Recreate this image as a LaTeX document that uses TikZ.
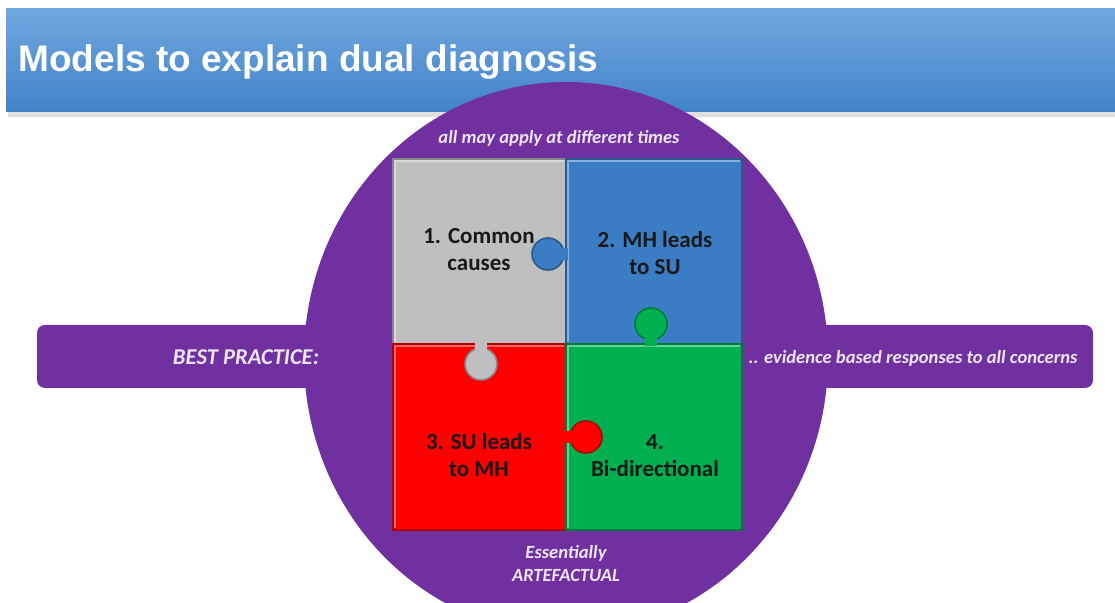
\documentclass[tikz,border=0pt]{standalone}
\usepackage{fontspec}
\setmainfont{Carlito}
\newfontfamily\headfont{Liberation Sans}
\definecolor{barTop}{HTML}{70A7DF}
\definecolor{barBottom}{HTML}{4283C8}
\definecolor{ring}{HTML}{7030A0}
\definecolor{ringText}{HTML}{EEE6F6}
\definecolor{pGrey}{HTML}{BFBFBF}
\definecolor{pBlue}{HTML}{3B7DC4}
\definecolor{pRed}{HTML}{FF0000}
\definecolor{pGreen}{HTML}{00B050}

\begin{document}
\begin{tikzpicture}[x=0.5pt, y=-0.5pt,
  ptext/.style={font=\bfseries\fontsize{11.5}{13.5}\selectfont, align=center, text=black!90},
  ringtext/.style={font=\bfseries\itshape\fontsize{9.3}{11.5}\selectfont, align=center, text=ringText},
  piece/.style={line width=0.8pt}]
\useasboundingbox (0,0) rectangle (1115,603);
\clip (0,0) rectangle (1115,603);

\fill[black!12] (8,112) rectangle (1115,117);
\shade[top color=barTop, bottom color=barBottom] (6,9) rectangle (1115,112);
\node[anchor=base west, inner sep=0pt, text=white, font=\headfont\bfseries\fontsize{18.5}{20}\selectfont] (title) at (18,72) {Models to explain dual diagnosis};

\fill[ring, rounded corners=4pt] (37,325) rectangle (1093,388);
\fill[ring] (566,358) ellipse [x radius=262, y radius=276];

\draw[piece, fill=pGrey, draw=pGrey!70!black] (393,159) rectangle (566,344);
\draw[piece, fill=pBlue, draw=pBlue!70!black] (566,159) rectangle (742,344);
\draw[piece, fill=pRed, draw=pRed!70!black] (393,344) rectangle (566,530);
\draw[piece, fill=pGreen, draw=pGreen!70!black] (566,344) rectangle (742,530);
\foreach \xa/\ya/\xb/\yb/\col in {393/159/566/344/pGrey, 566/159/742/344/pBlue, 393/344/566/530/pRed, 566/344/742/530/pGreen}
  \draw[\col!60!white, line width=0.8pt] (\xa+2,\yb-2) -- (\xa+2,\ya+2) -- (\xb-2,\ya+2);

\begin{scope}[piece]
\draw[fill=pBlue, draw=pBlue!70!black] (548,254) circle (16);
\fill[pBlue] (548,248) rectangle (568,260);
\draw[fill=pGrey, draw=pGrey!70!black] (481,364) circle (16);
\fill[pGrey] (475,342) rectangle (487,364);
\draw[fill=pGreen, draw=pGreen!70!black] (651,324) circle (16);
\fill[pGreen] (645,324) rectangle (657,346);
\draw[fill=pRed, draw=pRed!70!black] (586,437) circle (16);
\fill[pRed] (564,431) rectangle (586,443);
\end{scope}

\node[ptext] (common) at (479,250) {1. Common\\causes};
\node[ptext] (mhsu) at (655,253) {2. MH leads\\to SU};
\node[ptext] (sumh) at (479,455) {3. SU leads\\to MH};
\node[ptext] (bidir) at (655,456) {4.\\Bi-directional};

\node[ringtext] (times) at (559,138) {all may apply at different times};
\node[ringtext, font=\bfseries\itshape\fontsize{11.3}{13}\selectfont] (best) at (246,357) {BEST PRACTICE:};
\node[ringtext] (evidence) at (913,358) {.. evidence based responses to all concerns};
\node[ringtext] (artefact) at (566,564) {Essentially\\ARTEFACTUAL};

\end{tikzpicture}
\end{document}
